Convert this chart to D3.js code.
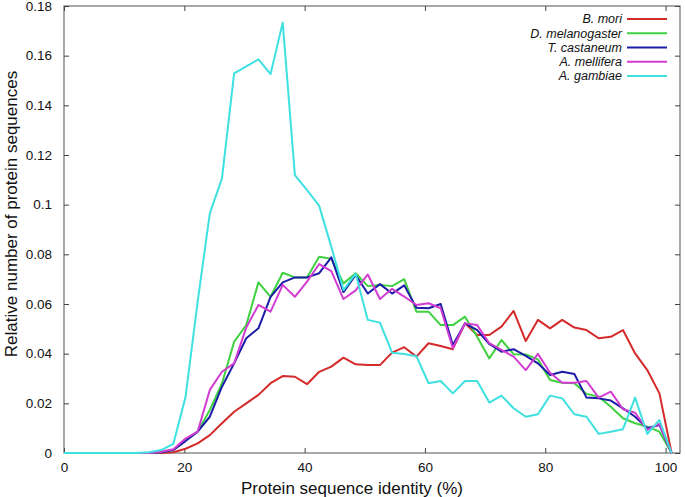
<!DOCTYPE html>
<html><head><meta charset="utf-8">
<script src="https://cdn.jsdelivr.net/npm/d3@7"></script>
<style>body{margin:0;background:#fff}svg{display:block}</style>
</head><body><svg id="c" width="685" height="497"></svg>
<script>
const identity = [0,2.02,4.04,6.06,8.08,10.1,12.12,14.14,16.16,18.18,20.2,22.22,24.24,26.26,28.28,30.3,32.32,34.34,36.36,38.38,40.4,42.42,44.44,46.46,48.48,50.5,52.52,54.54,56.56,58.58,60.6,62.62,64.64,66.66,68.68,70.7,72.72,74.74,76.76,78.78,80.8,82.82,84.84,86.86,88.88,90.9,92.92,94.94,96.96,98.98,101];
const bMori = [0,0,0,0,0,0,0,0,0,0.0003,0.0017,0.0039,0.0072,0.012,0.0166,0.02,0.0234,0.0281,0.031,0.0307,0.0277,0.0327,0.0348,0.0384,0.0357,0.0354,0.0354,0.0404,0.0426,0.0388,0.0442,0.0431,0.0418,0.0522,0.0475,0.0475,0.0509,0.0572,0.0451,0.0536,0.0502,0.0536,0.0505,0.0495,0.0462,0.0468,0.0495,0.0401,0.0334,0.024,0];
const dMelanogaster = [0,0,0,0,0,0,0,0,0.0003,0.0012,0.005,0.0086,0.0173,0.028,0.0448,0.0515,0.0687,0.0629,0.0726,0.0707,0.0707,0.079,0.0782,0.0683,0.0724,0.0672,0.0677,0.0672,0.07,0.0569,0.0569,0.0515,0.0515,0.0549,0.0468,0.0381,0.0455,0.0398,0.0397,0.0377,0.0294,0.0283,0.0281,0.0238,0.0227,0.0186,0.014,0.012,0.0106,0.0086,0];
const tCastaneum = [0,0,0,0,0,0,0,0,0.0003,0.0012,0.0048,0.0086,0.0146,0.0267,0.0361,0.0462,0.0502,0.0629,0.0687,0.0707,0.0707,0.0724,0.0788,0.0648,0.0717,0.0642,0.068,0.0642,0.0675,0.0585,0.0583,0.06,0.0435,0.0522,0.0495,0.0439,0.0408,0.0418,0.0391,0.0361,0.0314,0.0327,0.0318,0.0223,0.022,0.0211,0.018,0.0146,0.01,0.0113,0];
const aMellifera = [0,0,0,0,0,0,0,0,0.0005,0.0015,0.0058,0.0086,0.0254,0.0327,0.0361,0.0505,0.0596,0.0569,0.0677,0.0629,0.069,0.0761,0.0732,0.062,0.0655,0.0719,0.062,0.0661,0.063,0.0596,0.0603,0.0583,0.0422,0.0522,0.0515,0.0442,0.0415,0.0388,0.0334,0.0399,0.0323,0.0283,0.0283,0.029,0.0223,0.0247,0.0176,0.0162,0.0093,0.0117,0];
const aGambiae = [0,0,0,0,0,0,0,0.0003,0.0012,0.0037,0.0225,0.061,0.0965,0.1106,0.1529,0.1557,0.1585,0.1526,0.1733,0.1119,0.1059,0.0995,0.083,0.0656,0.0722,0.0536,0.0525,0.0404,0.0399,0.039,0.0281,0.029,0.024,0.029,0.029,0.0203,0.0231,0.018,0.0146,0.0156,0.0231,0.022,0.0156,0.0146,0.0077,0.0086,0.0096,0.0223,0.0077,0.0133,0];
const seriesNames = ["B. mori","D. melanogaster","T. castaneum","A. mellifera","A. gambiae"];
const seriesValues = [bMori,dMelanogaster,tCastaneum,aMellifera,aGambiae];
const seriesColors = ["#d42a2a","#3fd13f","#1c1ca8","#d23cd2","#3ee0e0"];
const xTicks = [0,20,40,60,80,100];
const yTicks = [0,0.02,0.04,0.06,0.08,0.1,0.12,0.14,0.16,0.18];
const xTitle = "Protein sequence identity (%)";
const yTitle = "Relative number of protein sequences";

const svg = d3.select("#c");
const L=64,R=680,T=6,B=453;
const x = d3.scaleLinear().domain([0,102.4]).range([L,R]);
const y = d3.scaleLinear().domain([0,0.18]).range([B,T]);
const font = "'Liberation Sans', Arial, sans-serif";
const fmt = v => v===0 ? "0" : d3.format("~g")(+v.toFixed(2));

// border
svg.append("rect").attr("x",L).attr("y",T).attr("width",R-L).attr("height",B-T)
  .attr("fill","none").attr("stroke","#6e6e6e").attr("stroke-width",1.2);

const tk = 5, tickCol = "#444";
function styleAxis(g){ g.select(".domain").remove(); g.selectAll("line").attr("stroke",tickCol);
  g.selectAll("text").attr("font-family",font).attr("font-size","13.5px").attr("fill","#111"); }
svg.append("g").attr("transform",`translate(0,${B})`)
  .call(d3.axisBottom(x).tickValues(xTicks).tickSizeInner(-tk).tickSizeOuter(0).tickPadding(9).tickFormat(d3.format("d")))
  .call(styleAxis);
svg.append("g").attr("transform",`translate(0,${T})`)
  .call(d3.axisTop(x).tickValues(xTicks).tickSizeInner(-tk).tickSizeOuter(0).tickFormat(""))
  .call(styleAxis);
svg.append("g").attr("transform",`translate(${L},0)`)
  .call(d3.axisLeft(y).tickValues(yTicks).tickSizeInner(-tk).tickSizeOuter(0).tickPadding(12).tickFormat(fmt))
  .call(styleAxis);
svg.append("g").attr("transform",`translate(${R},0)`)
  .call(d3.axisRight(y).tickValues(yTicks).tickSizeInner(-tk).tickSizeOuter(0).tickFormat(""))
  .call(styleAxis);

// lines
const line = d3.line().x((d,i)=>x(identity[i])).y(d=>y(d));
seriesValues.forEach((vals,k)=>{
  svg.append("path").datum(vals).attr("d",line).attr("fill","none")
    .attr("stroke",seriesColors[k]).attr("stroke-width",2).attr("stroke-linejoin","round");
});

// legend
const lg = svg.append("g");
seriesNames.forEach((n,k)=>{
  const yy = 19 + k*14.25;
  lg.append("text").attr("x",622).attr("y",yy).attr("dy","0.35em").attr("text-anchor","end")
    .attr("font-family",font).attr("font-style","italic").attr("font-size","12.5px").attr("fill","#111").text(n);
  lg.append("line").attr("x1",627).attr("x2",667).attr("y1",yy).attr("y2",yy)
    .attr("stroke",seriesColors[k]).attr("stroke-width",2);
});

// titles
svg.append("text").attr("x",352).attr("y",494).attr("text-anchor","middle")
  .attr("font-family",font).attr("font-size","17px").attr("fill","#111").text(xTitle);
svg.append("text").attr("transform","translate(17,214) rotate(-90)").attr("text-anchor","middle")
  .attr("font-family",font).attr("font-size","17px").attr("fill","#111").text(yTitle);
</script></body></html>
